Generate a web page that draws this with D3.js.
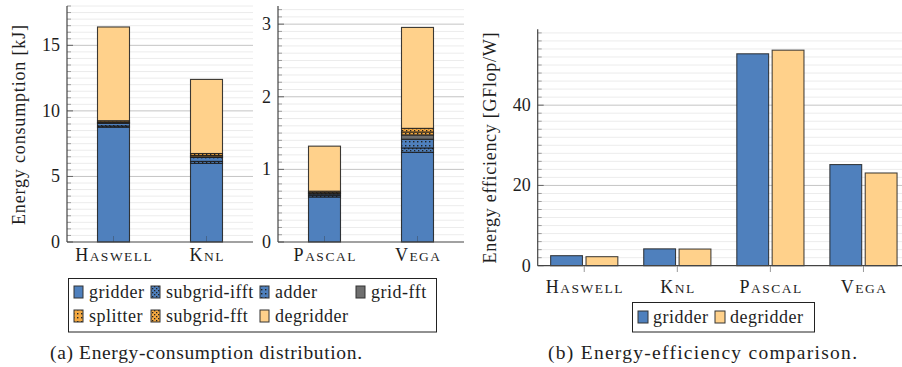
<!DOCTYPE html>
<html><head><meta charset="utf-8">
<script src="https://cdn.jsdelivr.net/npm/d3@7"></script>
<style>
html,body{margin:0;padding:0;background:#fff;}
svg{display:block;}
</style></head>
<body><svg id="c" width="902" height="367" font-family="Liberation Serif"></svg>
<script>
// ---------- data ----------
const platformsA1 = ["Haswell", "Knl"];
const platformsA2 = ["Pascal", "Vega"];
const platformsB = ["Haswell", "Knl", "Pascal", "Vega"];
const components = ["gridder", "subgrid-ifft", "adder", "grid-fft", "splitter", "subgrid-fft", "degridder"];
// energy consumption [kJ], in component order
const energyHaswell = [8.75, 0.10, 0.20, 0.05, 0.05, 0.10, 7.15];
const energyKnl     = [6.00, 0.15, 0.30, 0.05, 0.10, 0.15, 5.65];
const energyPascal  = [0.62, 0.02, 0.02, 0.01, 0.01, 0.02, 0.62];
const energyVega    = [1.235, 0.06, 0.12, 0.06, 0.04, 0.05, 1.39];
// energy efficiency [GFlop/W]
const effSeries = ["gridder", "degridder"];
const effGridder   = [2.5, 4.2, 52.8, 25.2];
const effDegridder = [2.25, 4.15, 53.7, 23.1];
const ticksA1 = [0, 5, 10, 15];
const ticksA2 = [0, 1, 2, 3];
const ticksB = [0, 20, 40];

// ---------- styles ----------
const FONT = "'Liberation Serif', 'Times New Roman', serif";
const BLUE = "#4f80bd", ORANGE = "#ffd18b", DORANGE = "#f5a940", GREY = "#6f6f6f";
const TXT = "#1e1e1e";
const svg = d3.select("#c").style("font-family", FONT);
const defs = svg.append("defs");
function pat(id, base, kind) {
  const p = defs.append("pattern").attr("id", id).attr("patternUnits", "userSpaceOnUse")
    .attr("width", 4).attr("height", 4);
  p.append("rect").attr("width", 4).attr("height", 4).attr("fill", base);
  if (kind === "dots") {
    p.append("rect").attr("x", 1).attr("y", 1).attr("width", 1.4).attr("height", 1.4).attr("fill", "#222");
  } else {
    p.append("rect").attr("x", 0).attr("y", 0).attr("width", 1.3).attr("height", 1.3).attr("fill", "#222");
    p.append("rect").attr("x", 2).attr("y", 2).attr("width", 1.3).attr("height", 1.3).attr("fill", "#222");
  }
}
pat("p-sifft", BLUE, "cross");
pat("p-adder", BLUE, "dots");
pat("p-split", DORANGE, "dots");
pat("p-sfft", DORANGE, "cross");
const fills = {
  "gridder": BLUE, "subgrid-ifft": "url(#p-sifft)", "adder": "url(#p-adder)",
  "grid-fft": GREY, "splitter": "url(#p-split)", "subgrid-fft": "url(#p-sfft)", "degridder": ORANGE
};
const energyByPlatform = {Haswell: energyHaswell, Knl: energyKnl, Pascal: energyPascal, Vega: energyVega};

function txt(sel) { return sel.append("text").style("font-family", FONT).attr("fill", TXT); }

function smallCaps(t, label) {
  t.attr("letter-spacing", 1.5);
  t.append("tspan").attr("font-size", 18).text(label[0].toUpperCase());
  t.append("tspan").attr("font-size", 13.5).text(label.slice(1).toUpperCase());
}

function yGrid(g, y, x0, x1, maxV, minorStep, majorTicks) {
  const minor = d3.range(0, maxV + 1e-9, minorStep).filter(v => !majorTicks.some(m => Math.abs(m - v) < 1e-9));
  g.append("g").selectAll("line").data(minor).join("line")
    .attr("x1", x0).attr("x2", x1).attr("y1", d => y(d)).attr("y2", d => y(d))
    .attr("stroke", "#ececec").attr("stroke-width", 1);
  g.append("g").selectAll("line").data(majorTicks.filter(v => v > 0)).join("line")
    .attr("x1", x0).attr("x2", x1).attr("y1", d => y(d)).attr("y2", d => y(d))
    .attr("stroke", "#c4c4c4").attr("stroke-width", 1);
  g.append("g").selectAll("line").data(minor).join("line")
    .attr("x1", x0).attr("x2", x0 + 4).attr("y1", d => y(d)).attr("y2", d => y(d))
    .attr("stroke", "#888").attr("stroke-width", 0.8);
  g.append("g").selectAll("line").data(majorTicks).join("line")
    .attr("x1", x0).attr("x2", x0 + 6).attr("y1", d => y(d)).attr("y2", d => y(d))
    .attr("stroke", "#666").attr("stroke-width", 1);
  g.append("g").selectAll("text").data(majorTicks).join("text")
    .style("font-family", FONT)
    .attr("x", x0 - 7).attr("y", d => y(d) + 6).attr("text-anchor", "end")
    .attr("font-size", 18).attr("fill", TXT).text(d => d3.format("d")(d));
}

function stackedPanel(platforms, x0, x1, yTop, minorStep, majorTicks) {
  const g = svg.append("g");
  const x = d3.scalePoint().domain(platforms).range([x0, x1]).padding(0.5);
  const y = d3.scaleLinear().domain([0, yTop]).range([242, 6]);
  yGrid(g, y, x0, x1, yTop, minorStep, majorTicks);
  const rows = platforms.map(p => {
    const o = {platform: p};
    components.forEach((c, i) => o[c] = energyByPlatform[p][i]);
    return o;
  });
  const stack = d3.stack().keys(components)(rows);
  const bw = 32;
  stack.forEach(layer => {
    g.append("g").selectAll("rect").data(layer).join("rect")
      .attr("x", d => x(d.data.platform) - bw / 2).attr("width", bw)
      .attr("y", d => y(d[1])).attr("height", d => y(d[0]) - y(d[1]))
      .attr("fill", fills[layer.key])
      .attr("stroke", "#1a1a1a").attr("stroke-opacity", 0.85).attr("stroke-width", 1.1);
  });
  g.append("g").selectAll("line").data(platforms).join("line")
    .attr("x1", d => x(d)).attr("x2", d => x(d)).attr("y1", 242).attr("y2", 236)
    .attr("stroke", "#333").attr("stroke-opacity", 0.35);
  g.append("line").attr("x1", x0).attr("x2", x0).attr("y1", 242).attr("y2", 6).attr("stroke", "#444").attr("stroke-width", 1.2);
  g.append("line").attr("x1", x0).attr("x2", x1).attr("y1", 242).attr("y2", 242).attr("stroke", "#444").attr("stroke-width", 1.2);
  platforms.forEach(p => {
    const t = txt(g).attr("x", x(p) + 0.75).attr("y", 261).attr("text-anchor", "middle");
    smallCaps(t, p);
  });
}

stackedPanel(platformsA1, 67, 253, 18, 0.5, ticksA1);
stackedPanel(platformsA2, 278, 464, 3.25, 0.1, ticksA2);

txt(svg).attr("transform", "translate(24.5,125) rotate(-90)")
  .attr("text-anchor", "middle").attr("font-size", 18)
  .attr("textLength", 200).attr("lengthAdjust", "spacing")
  .text("Energy consumption [kJ]");

// legend A
const legA = svg.append("g");
legA.append("rect").attr("x", 68.5).attr("y", 278.5).attr("width", 368).attr("height", 53.5)
  .attr("fill", "#fff").attr("stroke", "#222").attr("stroke-width", 1);
const legCols = [74, 151, 260, 356];
components.forEach((c, i) => {
  const col = i < 4 ? i : i - 4, row = i < 4 ? 0 : 1;
  const lx = legCols[col], ly = 286 + row * 24;
  legA.append("rect").attr("x", lx).attr("y", ly).attr("width", 9).attr("height", 12)
    .attr("fill", fills[c]).attr("stroke", "#333").attr("stroke-width", 1);
  txt(legA).attr("x", lx + 15).attr("y", ly + 12).attr("font-size", 18)
    .attr("letter-spacing", 0.5).text(c);
});

// ---------- panel B ----------
const gB = svg.append("g");
const bx0 = 537.7, bx1 = 910;
const xB = d3.scalePoint().domain(platformsB).range([bx0, bx1]).padding(0.5);
const xS = d3.scaleBand().domain(effSeries).range([-33.6, 33.6]).paddingInner(0.1);
const yB = d3.scaleLinear().domain([0, 58.9]).range([265.7, 29.3]);
yGrid(gB, yB, bx0, bx1, 58, 2, ticksB);
const effRows = platformsB.map((p, i) => ({platform: p, gridder: effGridder[i], degridder: effDegridder[i]}));
effSeries.forEach(s => {
  gB.append("g").selectAll("rect").data(effRows).join("rect")
    .attr("x", d => xB(d.platform) + xS(s)).attr("width", xS.bandwidth())
    .attr("y", d => yB(d[s])).attr("height", d => yB(0) - yB(d[s]))
    .attr("fill", s === "gridder" ? BLUE : ORANGE)
    .attr("stroke", "#1a1a1a").attr("stroke-opacity", 0.8).attr("stroke-width", 1.1);
});
gB.append("g").selectAll("line").data(platformsB).join("line")
  .attr("x1", d => xB(d)).attr("x2", d => xB(d)).attr("y1", 265.7).attr("y2", 272)
  .attr("stroke", "#555").attr("stroke-opacity", 0.6);
gB.append("line").attr("x1", bx0).attr("x2", bx0).attr("y1", 265.7).attr("y2", 29.3).attr("stroke", "#444").attr("stroke-width", 1.2);
gB.append("line").attr("x1", bx0).attr("x2", bx1).attr("y1", 265.7).attr("y2", 265.7).attr("stroke", "#444").attr("stroke-width", 1.2);
platformsB.forEach(p => {
  const t = txt(gB).attr("x", xB(p) + 0.75).attr("y", 293).attr("text-anchor", "middle");
  smallCaps(t, p);
});
txt(svg).attr("transform", "translate(496,148) rotate(-90)")
  .attr("text-anchor", "middle").attr("font-size", 18)
  .attr("textLength", 231).attr("lengthAdjust", "spacing")
  .text("Energy efficiency [GFlop/W]");

// legend B
const legB = svg.append("g");
legB.append("rect").attr("x", 632.5).attr("y", 302.5).attr("width", 182).attr("height", 29.5)
  .attr("fill", "#fff").attr("stroke", "#222").attr("stroke-width", 1);
const legBx = [638, 715];
effSeries.forEach((s, i) => {
  legB.append("rect").attr("x", legBx[i]).attr("y", 311).attr("width", 10).attr("height", 12)
    .attr("fill", s === "gridder" ? BLUE : ORANGE).attr("stroke", "#333").attr("stroke-width", 1);
  txt(legB).attr("x", legBx[i] + 15).attr("y", 323).attr("font-size", 18)
    .attr("letter-spacing", 0.5).text(s);
});

// captions
txt(svg).attr("x", 50).attr("y", 359)
  .attr("font-size", 19.5).attr("textLength", 312).attr("lengthAdjust", "spacing")
  .text("(a) Energy-consumption distribution.");
txt(svg).attr("x", 548).attr("y", 359)
  .attr("font-size", 19.5).attr("textLength", 309).attr("lengthAdjust", "spacing")
  .text("(b) Energy-efficiency comparison.");
</script></body></html>
